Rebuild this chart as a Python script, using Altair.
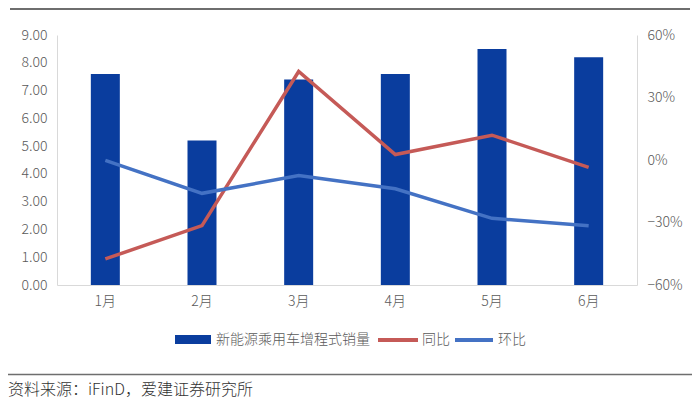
import altair as alt
import pandas as pd

# ---- data ----
months = ["1月", "2月", "3月", "4月", "5月", "6月"]
sales = [7.6, 5.2, 7.4, 7.6, 8.5, 8.2]                      # 新能源乘用车增程式销量
yoy = [-0.475, -0.315, 0.425, 0.026, 0.119, -0.035]          # 同比
mom = [-0.002, -0.16, -0.075, -0.138, -0.28, -0.316]         # 环比
series_names = ["新能源乘用车增程式销量", "同比", "环比"]
left_ticks = [0, 1, 2, 3, 4, 5, 6, 7, 8, 9]
right_ticks = [-0.6, -0.3, 0, 0.3, 0.6]
source_text = "资料来源：iFinD，爱建证券研究所"

colors = ["#0A3D9E", "#C55A57", "#4472C4"]
FONT = "Noto Sans CJK SC"
LABEL = "#595959"
AXIS = "#D9D9D9"

bar_df = pd.DataFrame({"month": months, "sales": sales})
line_df = pd.DataFrame({
    "month": months * 2,
    "series": [series_names[1]] * 6 + [series_names[2]] * 6,
    "value": yoy + mom,
})

x_enc = alt.X(
    "month:N", sort=months,
    scale=alt.Scale(paddingInner=0.7, paddingOuter=0.35),
    axis=alt.Axis(title=None, labelAngle=0, ticks=False, domainColor=AXIS,
                  labelColor=LABEL, labelFontSize=14, labelFont=FONT,
                  labelFontWeight=300, labelPadding=9),
)

bars = alt.Chart(bar_df).mark_bar(color=colors[0]).encode(
    x=x_enc,
    y=alt.Y("sales:Q", scale=alt.Scale(domain=[0, 9], nice=False),
            axis=alt.Axis(title=None, values=left_ticks, format=".2f",
                          ticks=False, grid=False, domainColor=AXIS,
                          labelColor=LABEL, labelFontSize=14, labelFont=FONT,
                          labelFontWeight=300, labelPadding=10)),
)

lines = alt.Chart(line_df).mark_line(strokeWidth=3.5).encode(
    x=x_enc,
    y=alt.Y("value:Q", scale=alt.Scale(domain=[-0.6, 0.6], nice=False),
            axis=alt.Axis(title=None, orient="right", values=right_ticks,
                          format=".0%", ticks=False, grid=False,
                          domainColor=AXIS, labelColor=LABEL,
                          labelFontSize=14, labelFont=FONT,
                          labelFontWeight=300, labelPadding=10)),
    color=alt.Color("series:N",
                    scale=alt.Scale(domain=series_names[1:], range=colors[1:]),
                    legend=None),
)

one = alt.Data(values=[{"k": 1}])

# ---- manual legend ----
leg_y = 305
txt = dict(align="left", baseline="middle", fontSize=14, font=FONT,
           fontWeight=300, color=LABEL)
leg_bar = alt.Chart(one).mark_rect(color=colors[0]).encode(
    x=alt.value(118), x2=alt.value(154), y=alt.value(leg_y - 5), y2=alt.value(leg_y + 4))
leg_t1 = alt.Chart(one).mark_text(text=series_names[0], **txt).encode(
    x=alt.value(159), y=alt.value(leg_y))
leg_red = alt.Chart(one).mark_rule(color=colors[1], strokeWidth=4).encode(
    x=alt.value(321), x2=alt.value(361), y=alt.value(leg_y))
leg_t2 = alt.Chart(one).mark_text(text=series_names[1], **txt).encode(
    x=alt.value(365), y=alt.value(leg_y))
leg_blue = alt.Chart(one).mark_rule(color=colors[2], strokeWidth=4).encode(
    x=alt.value(398), x2=alt.value(436), y=alt.value(leg_y))
leg_t3 = alt.Chart(one).mark_text(text=series_names[2], **txt).encode(
    x=alt.value(441), y=alt.value(leg_y))

# ---- frame lines and source ----
top_line = alt.Chart(one).mark_rule(color="#6E6E6E", strokeWidth=2).encode(
    x=alt.value(-47), x2=alt.value(633), y=alt.value(-26))
sep_line = alt.Chart(one).mark_rule(color="#6E6E6E", strokeWidth=1.5).encode(
    x=alt.value(-49), x2=alt.value(635), y=alt.value(339.5))
src = alt.Chart(one).mark_text(align="left", baseline="middle", fontSize=16,
                               font=FONT, fontWeight=300, color="#333333",
                               text=source_text).encode(
    x=alt.value(-49), y=alt.value(355))

chart = alt.layer(
    bars, lines, leg_bar, leg_t1, leg_red, leg_t2, leg_blue, leg_t3,
    top_line, sep_line, src,
).resolve_scale(y="independent").properties(
    width=580, height=250,
    autosize=alt.AutoSizeParams(type="none"),
    padding={"left": 49, "top": 27, "right": 55, "bottom": 114},
    background="white",
).configure_view(stroke=None)

chart.save("out.html", embed_options={"renderer": "svg", "actions": False})
